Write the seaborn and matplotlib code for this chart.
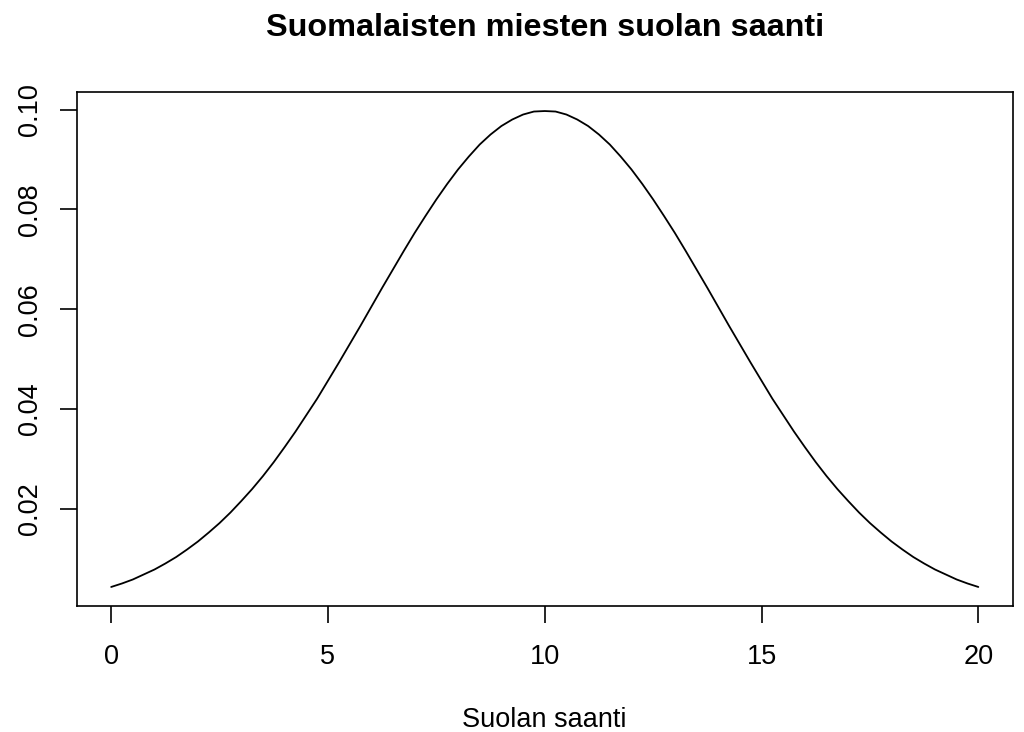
import pandas as pd
import matplotlib
matplotlib.use("Agg")
import matplotlib.pyplot as plt
import seaborn as sns

# suolan saanti (g/vrk) ja tiheys, luettu kuvasta
saanti = [0.0, 0.25, 0.5, 0.75, 1.0, 1.25, 1.5, 1.75, 2.0, 2.25,
          2.5, 2.75, 3.0, 3.25, 3.5, 3.75, 4.0, 4.25, 4.5, 4.75,
          5.0, 5.25, 5.5, 5.75, 6.0, 6.25, 6.5, 6.75, 7.0, 7.25,
          7.5, 7.75, 8.0, 8.25, 8.5, 8.75, 9.0, 9.25, 9.5, 9.75,
          10.0, 10.25, 10.5, 10.75, 11.0, 11.25, 11.5, 11.75, 12.0, 12.25,
          12.5, 12.75, 13.0, 13.25, 13.5, 13.75, 14.0, 14.25, 14.5, 14.75,
          15.0, 15.25, 15.5, 15.75, 16.0, 16.25, 16.5, 16.75, 17.0, 17.25,
          17.5, 17.75, 18.0, 18.25, 18.5, 18.75, 19.0, 19.25, 19.5, 19.75, 20.0]
tiheys = [0.0044, 0.0051, 0.0059, 0.0069, 0.0079, 0.0091, 0.0104, 0.0119, 0.0135, 0.0153,
          0.0172, 0.0193, 0.0216, 0.0240, 0.0266, 0.0294, 0.0324, 0.0355, 0.0388, 0.0421,
          0.0457, 0.0493, 0.0530, 0.0567, 0.0605, 0.0643, 0.0680, 0.0717, 0.0753, 0.0787,
          0.0820, 0.0851, 0.0880, 0.0906, 0.0930, 0.0950, 0.0967, 0.0980, 0.0990, 0.0996,
          0.0997, 0.0996, 0.0990, 0.0980, 0.0967, 0.0950, 0.0930, 0.0906, 0.0880, 0.0851,
          0.0820, 0.0787, 0.0753, 0.0717, 0.0680, 0.0643, 0.0605, 0.0567, 0.0530, 0.0493,
          0.0457, 0.0421, 0.0388, 0.0355, 0.0324, 0.0294, 0.0266, 0.0240, 0.0216, 0.0193,
          0.0172, 0.0153, 0.0135, 0.0119, 0.0104, 0.0091, 0.0079, 0.0069, 0.0059, 0.0051, 0.0044]
x_ticks = [0, 5, 10, 15, 20]
y_ticks = [0.02, 0.04, 0.06, 0.08, 0.10]

sns.set_theme(style="ticks")
plt.rcParams['font.family'] = ['Liberation Sans', 'DejaVu Sans']
plt.rcParams['text.color'] = 'black'

df = pd.DataFrame({"x": saanti, "y": tiheys})

fig = plt.figure(figsize=(10.24, 7.32), dpi=100)
ax = fig.add_axes([76.5 / 1024, 1 - 606 / 732, (1013 - 76.5) / 1024, (606 - 92) / 732])
sns.lineplot(data=df, x="x", y="y", color="black", linewidth=1.3, ax=ax)

# R-tyylinen 4 % laajennus
xr = max(saanti) - min(saanti)
yr = max(tiheys) - min(tiheys)
ax.set_xlim(min(saanti) - 0.04 * xr, max(saanti) + 0.04 * xr)
ax.set_ylim(min(tiheys) - 0.04 * yr, max(tiheys) + 0.04 * yr)

for s in ax.spines.values():
    s.set_visible(True)
    s.set_color("black")
    s.set_linewidth(1.2)

ax.set_xticks(x_ticks)
ax.set_xticklabels([str(t) for t in x_ticks])
ax.set_yticks(y_ticks)
ax.set_yticklabels([f"{t:.2f}" for t in y_ticks], rotation=90, va="center")
ax.tick_params(axis="both", direction="out", length=12, width=1.2, color="black",
               labelsize=19.5, labelcolor="black")
ax.tick_params(axis="x", pad=15.5)
ax.tick_params(axis="y", pad=12)

ax.set_xlabel("Suolan saanti", fontsize=19.5, color="black", va="baseline")
ax.xaxis.set_label_coords(0.5, -(727 - 606) / 514)
ax.set_ylabel("")
# otsikko keskitetään piirtoalueen yläpuolelle kuten R:ssä
ax.text(0.5, (606 - 36) / 514, "Suomalaisten miesten suolan saanti", transform=ax.transAxes,
        ha="center", va="baseline", fontsize=23.3, fontweight="bold", color="black")

fig.savefig("out.png", dpi=100, facecolor="white")
plt.close(fig)
